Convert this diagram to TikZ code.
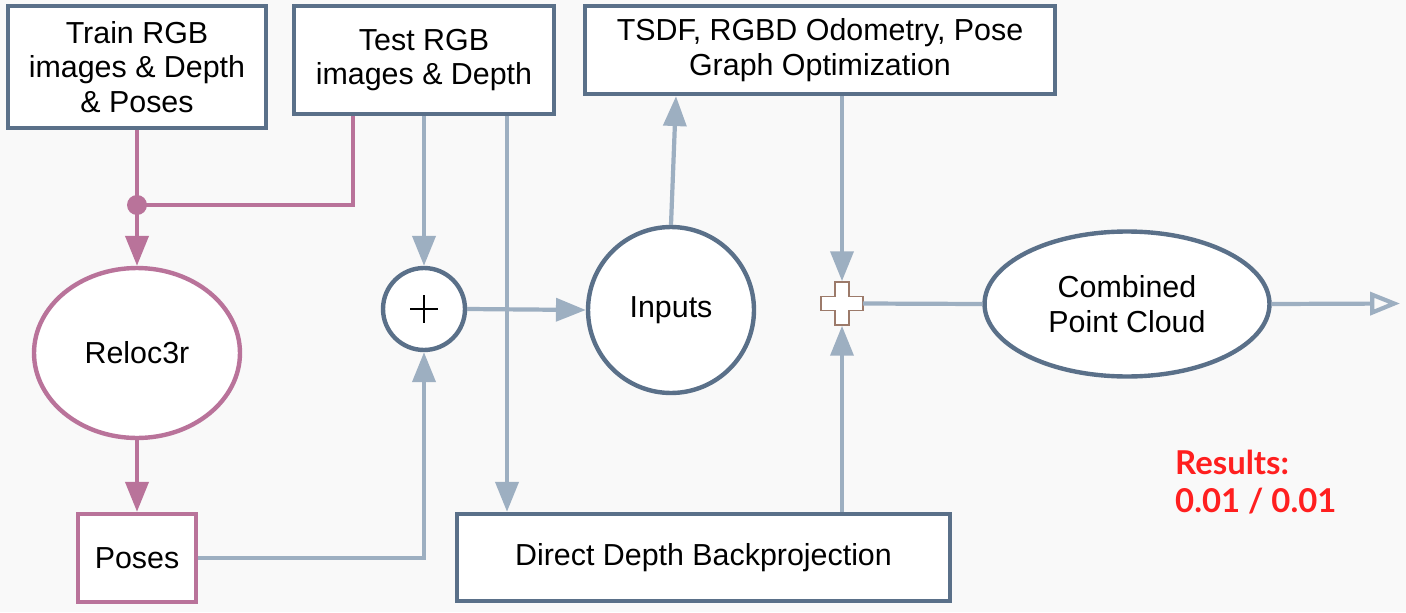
\documentclass[tikz,border=0pt]{standalone}
\usepackage{fontspec}
\setmainfont{Liberation Sans}
\newfontfamily\resfont{Lato}
\usetikzlibrary{arrows.meta,shapes.geometric,calc}
\definecolor{bgc}{HTML}{F9F9F9}
\definecolor{slate}{HTML}{5A7089}
\definecolor{pinkc}{HTML}{B9739A}
\definecolor{bluec}{HTML}{9DAFC1}
\definecolor{brownc}{HTML}{9C7A6A}
\definecolor{redc}{HTML}{FF1F1F}
\tikzset{
  box/.style={draw=slate, line width=2.5pt, fill=white, rectangle, inner sep=0pt, align=center, font=\fontsize{17.3}{19.8}\selectfont},
  pbox/.style={box, draw=pinkc},
  oval/.style={draw=slate, line width=2.5pt, fill=white, ellipse, inner sep=0pt, align=center, font=\fontsize{17.3}{19.8}\selectfont},
  circ/.style={draw=slate, line width=2.5pt, fill=white, circle, inner sep=0pt, align=center, font=\fontsize{17.3}{19.8}\selectfont},
  bl/.style={draw=bluec, line width=2.4pt},
  bla/.style={bl, -{Triangle[length=17pt,width=13pt]}},
  pl/.style={draw=pinkc, line width=2.4pt},
  pla/.style={pl, -{Triangle[length=17pt,width=13pt]}},
}
\begin{document}
\begin{tikzpicture}[x=0.02cm,y=-0.02cm]
\fill[bgc] (0,0) rectangle (1406,612);
\useasboundingbox (0,0) rectangle (1406,612);
% nodes
\node[box, minimum width=5.16cm, minimum height=2.44cm] (train) at (137,67) {Train RGB\\images \& Depth\\\& Poses};
\node[box, minimum width=5.2cm, minimum height=2.16cm] (test) at (424,60) {Test RGB\\images \& Depth};
\node[box, minimum width=9.4cm, minimum height=1.76cm] (tsdf) at (820,50) {TSDF, RGBD Odometry, Pose\\Graph Optimization};
\node[oval, draw=pinkc, minimum width=4.12cm, minimum height=3.4cm] (reloc) at (137,353) {Reloc3r};
\node[pbox, minimum width=2.36cm, minimum height=1.76cm] (poses) at (137,558) {Poses};
\node[box, minimum width=9.86cm, minimum height=1.74cm] (direct) at (703.5,557.5) {Direct Depth Backprojection};
\node[circ, minimum size=1.64cm] (plus) at (424,309) {};
\draw[line width=0.9pt] ($(plus.center)+(-14,0)$) -- ($(plus.center)+(14,0)$)
                        ($(plus.center)+(0,-14)$) -- ($(plus.center)+(0,14)$);
\node[circ, minimum size=3.32cm] (inputs) at (671,310) {Inputs};
\node[oval, minimum width=5.7cm, minimum height=2.9cm] (comb) at (1127,304) {Combined\\Point Cloud};
\node[rectangle, inner sep=0pt, minimum width=0.82cm, minimum height=0.88cm] (cross) at (842,303.5) {};
\draw[brownc, line width=0.8pt, fill=white]
  (835,282) -- (849,282) -- (849,296.5) -- (863,296.5) -- (863,310.5) -- (849,310.5) -- (849,325)
  -- (835,325) -- (835,310.5) -- (821,310.5) -- (821,296.5) -- (835,296.5) -- cycle;
\node[circle, fill=pinkc, inner sep=0pt, minimum size=0.4cm] (dot) at (137,205) {};
\node[anchor=base west, align=left, text=redc, font=\resfont\bfseries\fontsize{18.7}{21.5}\selectfont] (res) at (1169,512) {Results:\\0.01 / 0.01};
% coordinates
\coordinate (xa) at (353,0);
\coordinate (xb) at (507,0);
\coordinate (xc) at (676,0);
\coordinate (endc) at (1400,303.5);
% connectors
\draw[pl] (train.south) -- (dot.center);
\draw[pla] (dot.center) -- (reloc.north);
\draw[pl] (test.south -| xa) |- (dot.center);
\draw[bla] (test.south -| plus) -- (plus.north);
\draw[bla] (test.south -| xb) -- (direct.north -| xb);
\draw[pla] (reloc.south) -- (poses.north);
\draw[bla] (poses.east) -| (plus.south);
\draw[bla] (plus.east) -- (inputs.west);
\draw[bla] (inputs.north) -- (tsdf.south -| xc);
\draw[bla] (tsdf.south -| cross) -- (cross.north);
\draw[bla] (direct.north -| cross) -- (cross.south);
\draw[bl] (cross.east) -- (comb.west);
\draw[bl, -{Triangle[open,length=17pt,width=13pt]}] (comb.east) -- (endc);
\end{tikzpicture}
\end{document}
